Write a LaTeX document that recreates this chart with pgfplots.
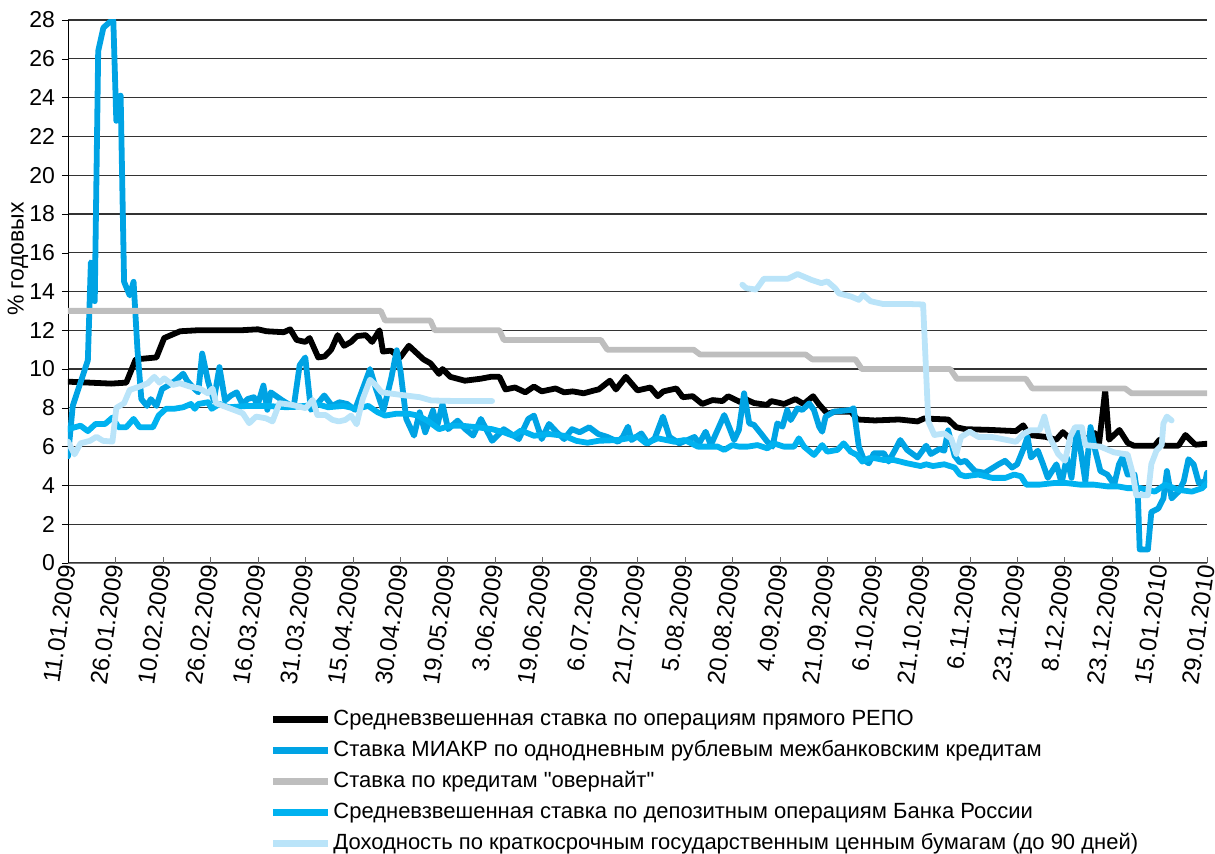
\documentclass[border=0pt]{standalone}
\usepackage{fontspec}
\setmainfont{Liberation Sans}
\usepackage{pgfplots}
\pgfplotsset{compat=1.18}

\definecolor{miakr}{RGB}{0,163,228}
\definecolor{depo}{RGB}{0,178,240}
\definecolor{over}{RGB}{190,190,190}
\definecolor{gko}{RGB}{186,228,249}
\newcommand{\lab}{\fontsize{11.5}{13}\selectfont}
\newcommand{\xlab}{\fontsize{12}{14}\selectfont}
\newcommand{\leg}{\fontsize{11}{13}\selectfont}

\begin{document}
\begin{tikzpicture}
\begin{axis}[
  scale only axis,
  width=569.5pt, height=271.5pt,
  xmin=0, xmax=264, ymin=0, ymax=28,
  axis lines=left,
  axis line style={-},
  x axis line style={black!55},
  y axis line style={black},
  xtick={0,11,22,33,44,55,66,77,88,99,110,121,132,143,154,165,176,187,198,209,220,231,242,253,264},
  xticklabels={11.01.2009,26.01.2009,10.02.2009,26.02.2009,16.03.2009,31.03.2009,15.04.2009,30.04.2009,19.05.2009,3.06.2009,19.06.2009,6.07.2009,21.07.2009,5.08.2009,20.08.2009,4.09.2009,21.09.2009,6.10.2009,21.10.2009,6.11.2009,23.11.2009,8.12.2009,23.12.2009,15.01.2010,29.01.2010},
  ytick={0,2,...,28},
  xtick align=inside,
  ytick align=outside,
  major tick length=3pt,
  x tick style={black!60},
  y tick style={black},
  ymajorgrids,
  major grid style={black!80, line width=0.6pt},
  /pgf/number format/assume math mode=true,
  xticklabel style={rotate=82, anchor=east, font=\xlab, inner sep=1pt},
  yticklabel style={font=\lab},
  ylabel={\% годовых},
  ylabel style={font=\lab, at={(axis description cs:-0.044,0.442)}, anchor=west, rotate=0},
  unbounded coords=jump,
  every axis plot/.append style={line width=2.9pt, line join=round, line cap=round},
  legend cell align=left,
  legend image code/.code={\draw[#1, line width=3.2pt, line cap=butt] (0pt,0pt) -- (27.5pt,0pt);},
  legend style={at={(axis description cs:0.177,-0.262)}, anchor=north west, draw=none, fill=none,
    inner sep=0pt, row sep=1.5pt, font=\leg,
    nodes={inner sep=1pt, text height=9pt, text depth=3pt},
    /tikz/every odd column/.append style={column sep=0pt}},
]
\coordinate (sw) at (rel axis cs:0,0);

% REPO
\addplot[black] coordinates {
(0,9.35) (5,9.3) (10,9.25) (13.5,9.3) (15.7,10.5) (20.5,10.6) (22.3,11.6) (26,11.95) (30,12.0) (40,12.0) (44,12.05) (46,11.95) (50,11.9) (51.5,12.05) (53,11.5) (55,11.4) (56,11.6) (58,10.6) (59.5,10.65) (61,11.0) (62.5,11.75) (64,11.2) (65.6,11.4) (67,11.7) (69,11.75) (70.5,11.4) (72.2,12.0) (73,10.9) (74.8,10.95) (77,10.6) (79,11.2) (82.4,10.5) (84,10.3) (86,9.75) (86.8,10.0) (88.6,9.6) (92,9.4) (95.6,9.5) (98,9.6) (100,9.6) (101.4,8.95) (103.6,9.05) (106,8.8) (108,9.1) (109.8,8.85) (113,9.0) (115,8.8) (117,8.85) (119.5,8.75) (122,8.9) (123,8.95) (125.6,9.4) (127,8.95) (129.3,9.6) (132,8.9) (135,9.05) (136.7,8.6) (138,8.85) (141,9.0) (142.5,8.55) (144.8,8.6) (147,8.2) (149.4,8.4) (151.7,8.35) (153,8.6) (155.8,8.3) (157,8.45) (159,8.25) (162,8.15) (163,8.35) (166,8.2) (168.6,8.45) (170.5,8.2) (172.7,8.6) (174,8.2) (176,7.7) (177.8,7.8) (181.5,7.8) (183,7.4) (187,7.35) (192.6,7.4) (196.9,7.3) (198.4,7.45) (204,7.4) (205.9,7.0) (208,6.9) (214,6.86) (219.7,6.8) (221.4,7.1) (222.8,6.6) (226.7,6.5) (229,6.35) (230.6,6.75) (232,6.45) (233.7,6.85) (235.8,6.36) (238,6.7) (239,6.2) (240.4,8.9) (241.3,6.36) (243.7,6.86) (245.6,6.2) (247,6.05) (251.9,6.05) (253,6.36) (254,6.05) (257.4,6.05) (259,6.6) (261.3,6.1) (264,6.15)
};
\addlegendentry{Средневзвешенная ставка по операциям прямого РЕПО}

% MIAKR
\addplot[miakr] coordinates {
(0,5.5) (1.1,8.1) (4.6,10.45) (5.3,15.5) (5.8,15.4) (6.2,13.5) (7,26.4) (8.2,27.6) (9.7,27.9) (10.5,28.0) (11.2,22.8) (12.2,24.1) (13,14.5) (14.3,13.8) (15.2,14.5) (16.1,11.0) (17,8.45) (18.3,8.1) (19.2,8.45) (20.5,8.1) (21.8,8.97) (23.2,9.15) (24.9,9.4) (26.7,9.76) (27.6,9.4) (28.9,9.07) (30.2,8.8) (31.1,10.8) (32.5,9.33) (33.8,8.38) (35.1,10.1) (36.4,8.38) (37.8,8.64) (39.1,8.8) (40.4,8.2) (41.7,8.46) (43.1,8.55) (43.9,8.1) (45.3,9.15) (46.2,7.9) (47,8.8) (49.7,8.38) (52.3,8.03) (53.7,10.2) (55,10.6) (56.3,7.9) (58.1,8.29) (59.4,8.64) (61.2,8.1) (62.9,8.29) (64.7,8.2) (66.5,7.9) (68.3,8.97) (70,10.0) (71.4,8.97) (73.1,7.86) (74.9,9.5) (76.2,10.97) (77.1,9.85) (78.4,7.43) (80.2,6.57) (81.5,7.77) (82.8,6.74) (84.6,7.86) (85.5,7.0) (86.8,8.2) (88.1,6.9) (90.3,7.34) (92.1,6.9) (93.9,6.57) (95.7,7.43) (98.3,6.3) (101,6.9) (104.5,6.39) (106.7,7.43) (108,7.6) (109.8,6.39) (111.5,7.17) (113.3,6.74) (115,6.39) (116.8,6.9) (118.6,6.74) (120.8,7.0) (122.9,6.65) (125,6.5) (127.5,6.25) (128.6,6.5) (129.8,7.03) (130.6,6.34) (132.9,6.68) (134.4,6.17) (136,6.43) (137.9,7.55) (139.4,6.5) (141.7,6.17) (143.6,6.34) (145.2,6.5) (146.3,6.17) (147.8,6.77) (149,6.08) (150.9,7.03) (152.1,7.63) (153.2,7.03) (154.4,6.34) (155.5,6.86) (156.7,8.75) (157.9,7.2) (159,7.12) (160.6,6.68) (162.1,6.25) (163.3,6.0) (164.4,7.2) (165.6,7.03) (166.7,7.89) (167.5,7.37) (169.1,7.98) (170.2,7.89) (171.8,8.23) (172.9,7.89) (174.1,7.03) (174.8,6.77) (175.6,7.55) (177.5,7.8) (181.4,7.89) (182.1,7.98) (183.3,6.0) (184.5,5.31) (185.6,5.14) (186.8,5.66) (189.1,5.66) (190.2,5.23) (191.7,5.83) (192.9,6.34) (194.5,5.83) (196.9,5.44) (198.9,6.05) (200,5.62) (202,5.88) (203.1,5.79) (204,6.84) (205.5,5.53) (206.7,5.18) (208,5.27) (210.2,4.74) (212.5,4.65) (215.7,5.09) (217.2,5.27) (218.8,4.92) (220,5.09) (221.6,5.97) (222.4,6.5) (223.2,5.44) (224.8,5.79) (226,5.09) (227.1,4.39) (229.1,5.09) (230.3,4.12) (231.5,5.44) (232.6,4.39) (233.8,6.84) (234.6,5.97) (235.8,4.21) (237,7.01) (238.1,5.79) (239.3,4.74) (240.9,4.56) (242.5,4.04) (243.6,5.09) (244.4,5.44) (245.6,4.56) (247.2,4.56) (248,3.33) (248.4,0.7) (250.3,0.7) (251.1,2.63) (252.7,2.81) (253.9,3.33) (254.7,4.74) (255.8,3.33) (257.4,3.68) (258.6,4.21) (259.7,5.35) (260.9,5.09) (262.1,4.12) (263.6,4.21) (264,4.65)
};
\addlegendentry{Ставка МИАКР по однодневным рублевым межбанковским кредитам}

% overnight
\addplot[over] coordinates {
(0,13) (72.5,13) (73.5,12.5) (84,12.5) (85,12) (100,12) (101,11.5) (123.5,11.5) (125,11.0) (145,11.0) (146.5,10.75) (171,10.75) (172.5,10.5) (182.5,10.5) (184,10.0) (204.5,10.0) (206,9.5) (222,9.5) (223.5,9.0) (245,9.0) (246.5,8.75) (264,8.75)
};
\addlegendentry{Ставка по кредитам \textquotedbl овернайт\textquotedbl}

% deposit
\addplot[depo] coordinates {
(0,6.9) (2.9,7.08) (4.6,6.8) (6.4,7.17) (8.6,7.17) (10.3,7.5) (11.7,7.0) (13.5,7.0) (15.2,7.43) (16.6,7.0) (19.7,7.0) (21,7.6) (22.7,7.95) (24.5,7.95) (26.7,8.03) (28.5,8.2) (29.4,7.95) (30.2,8.2) (32.5,8.29) (33.3,7.95) (35.1,8.2) (37.3,8.03) (41.7,8.1) (46.1,8.1) (50.6,8.03) (55,8.1) (57.6,8.2) (60.3,8.03) (63.8,8.1) (66.9,7.95) (69.6,8.1) (71.8,7.77) (73.5,7.6) (76.2,7.7) (78.9,7.7) (81.1,7.6) (83.3,7.34) (86,6.9) (88.6,7.08) (91.2,7.08) (94.8,7.0) (98.3,6.9) (101,6.74) (103.2,6.56) (105,6.83) (108,6.56) (111.5,6.65) (115,6.56) (117.8,6.3) (120.4,6.2) (122.9,6.3) (127.5,6.34) (129.8,6.43) (132.1,6.5) (134,6.17) (136.7,6.43) (140.6,6.25) (142.9,6.34) (146,6.0) (148.3,6.0) (150.6,6.0) (152.1,5.83) (154,6.08) (155.5,6.0) (157.5,6.0) (159.8,6.08) (162.1,5.91) (163.6,6.17) (165.9,6.0) (168.3,6.0) (169.4,6.43) (170.6,6.0) (172.9,5.57) (174.8,6.08) (176,5.74) (178.3,5.83) (179.8,6.17) (181.4,5.74) (182.9,5.57) (184.1,5.23) (185.6,5.4) (187.1,5.4) (189.1,5.31) (191.4,5.31) (192.9,5.23) (194.5,5.14) (197.6,5.0) (198.9,5.09) (200.5,5.0) (203.1,5.09) (205.5,4.92) (206.7,4.56) (208,4.47) (211,4.56) (214.2,4.39) (217.3,4.39) (219.3,4.56) (220.9,4.47) (222.1,4.04) (225.2,4.04) (228.4,4.12) (231.5,4.12) (234.6,4.04) (237.8,4.04) (240.9,3.95) (243.3,3.95) (245.6,3.86) (248.7,3.86) (251.9,3.68) (254.3,4.04) (257.4,3.77) (260.5,3.68) (262.9,3.86) (264,4.12)
};
\addlegendentry{Средневзвешенная ставка по депозитным операциям Банка России}

% GKO yields
\addplot[gko] coordinates {
(0,6.26) (1.5,5.6) (2.9,6.17) (5.1,6.3) (6.6,6.51) (8.1,6.3) (10.3,6.26) (11.2,8.0) (13,8.24) (14.3,8.92) (16.6,9.1) (18.5,9.27) (20,9.6) (21.2,9.3) (22.3,9.52) (24.3,9.18) (25.9,9.27) (28.2,9.1) (30.5,9.0) (32.4,8.75) (33.5,9.0) (34.3,8.24) (37.4,7.98) (40.5,7.72) (42,7.21) (43.6,7.55) (45.9,7.46) (47.4,7.3) (49,8.24) (52,8.15) (55.1,7.98) (56.7,8.41) (57.8,7.63) (59.7,7.63) (61.3,7.38) (62.8,7.3) (64.3,7.38) (65.6,7.6) (66.9,7.15) (68.3,8.45) (70,9.45) (71.4,9.15) (72.7,8.8) (77.1,8.67) (81.5,8.55) (84.2,8.38) (90.3,8.35) (98.3,8.35)
(99,nan)
(156.3,14.35) (157.2,14.17) (159.5,14.1) (161.3,14.66) (166.9,14.66) (169.1,14.9) (172.3,14.6) (174.6,14.43) (176,14.52) (177.8,14.17) (178.7,13.9) (181.5,13.74) (183.3,13.57) (184.3,13.83) (186,13.5) (188.8,13.36) (194.3,13.36) (198.2,13.33) (199.4,7.3) (200.8,6.6) (203.1,6.68) (204.7,6.42) (205.9,5.62) (207,6.5) (209,6.77) (211,6.5) (214.1,6.5) (219.7,6.25) (221.6,6.68) (223.2,6.85) (225.2,6.85) (226.3,7.55) (227.5,6.5) (229.5,5.62) (231.1,5.27) (232.3,6.5) (233.4,7.0) (235,7.0) (235.8,6.08) (239.3,6.0) (242.5,5.7) (245.6,5.6) (246.8,4.6) (247.6,3.5) (250.3,3.5) (251.1,5.1) (252.3,5.8) (253.5,6.08) (253.9,7.2) (254.7,7.55) (255.8,7.35)
};
\addlegendentry{Доходность по краткосрочным государственным ценным бумагам (до 90 дней)}
\end{axis}
\pgfresetboundingbox
\path ([xshift=-34pt,yshift=-145.5pt]sw) rectangle ++(607.5pt,427pt);
\end{tikzpicture}
\end{document}
